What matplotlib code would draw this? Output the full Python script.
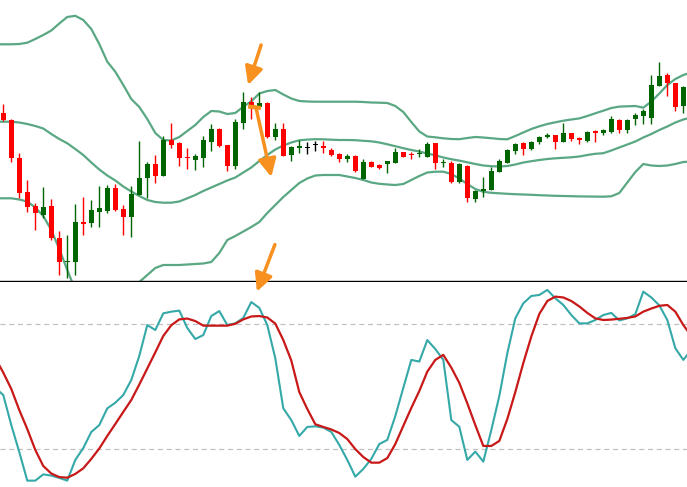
import numpy as np
import matplotlib
matplotlib.use('Agg')
import matplotlib.pyplot as plt

# K线数据 (价格单位任意)
opens = [187, 180, 142, 108, 94, 85, 94, 62, 38, 38, 78, 77, 88, 89, 112, 91, 83, 105, 122, 136,
         124, 160, 157, 143, 140, 142, 158, 171, 155, 134, 177, 198, 193, 197, 163, 171, 145, 152, 152, 155,
         154, 150, 146, 141, 144, 121, 138, 135, 136, 137, 148, 146, 146, 143, 157, 137, 137, 118, 134, 101,
         109, 110, 128, 137, 149, 157, 151, 158, 163, 165, 158, 167, 162, 159, 169, 167, 168, 180, 170, 181,
         184, 182, 214, 225, 217, 194]
highs = [196, 181, 147, 120, 97, 113, 101, 69, 65, 96, 103, 100, 114, 115, 116, 95, 114, 159, 138, 145,
         164, 177, 158, 152, 146, 164, 176, 172, 155, 181, 208, 203, 208, 198, 177, 177, 154, 160, 158, 159,
         159, 152, 147, 146, 145, 141, 139, 136, 139, 152, 148, 148, 151, 158, 157, 141, 139, 137, 135, 110,
         123, 133, 141, 151, 157, 158, 159, 164, 167, 165, 177, 167, 163, 169, 170, 171, 184, 181, 181, 187,
         191, 225, 238, 227, 217, 214]
lows = [179, 138, 102, 88, 70, 82, 60, 25, 22, 25, 65, 73, 73, 87, 89, 65, 63, 105, 102, 117,
        124, 152, 134, 131, 130, 133, 149, 153, 129, 131, 171, 181, 193, 162, 160, 144, 139, 147, 146, 149,
        147, 144, 138, 138, 128, 121, 133, 131, 127, 137, 143, 141, 143, 143, 131, 133, 117, 117, 98, 98,
        103, 110, 128, 137, 146, 145, 150, 156, 162, 151, 158, 159, 156, 158, 158, 165, 167, 167, 167, 175,
        176, 176, 214, 204, 189, 187]
closes = [180, 142, 107, 93, 87, 93, 62, 38, 39, 78, 76, 90, 92, 112, 90, 83, 106, 122, 136, 124,
          160, 155, 142, 142, 144, 160, 171, 154, 134, 178, 198, 194, 197, 163, 171, 144, 153, 154, 152, 155,
          152, 145, 141, 144, 129, 138, 133, 132, 139, 148, 143, 145, 147, 156, 137, 138, 118, 136, 102, 109,
          111, 129, 139, 150, 156, 151, 158, 163, 165, 158, 167, 161, 160, 168, 167, 170, 181, 170, 180, 185,
          189, 215, 224, 217, 193, 213]

# 布林带 (从 -1 到 86)
band_x = np.arange(-1, 87)
bb_upper = [255.7, 255.7, 255.7, 256, 257.3, 261, 265, 269.5, 276.5, 283,
            284.2, 280, 271, 256, 238.3, 228.3, 215, 201, 193, 181,
            167, 160, 159.5, 163, 169, 175, 183, 189, 188.5, 186,
            187, 193.3, 198.7, 206.5, 209, 210, 205.5, 201.5, 199, 198.5,
            198.3, 198.3, 198.3, 198.3, 198.3, 198.3, 198, 197.5, 197.3, 197,
            194, 188, 178, 168.5, 163.5, 162.7, 161.7, 161, 160.8, 162,
            163, 162.5, 161.8, 161, 160.7, 164, 167.5, 171, 173.7, 176,
            177.7, 179.3, 180.5, 181.6, 184, 186.7, 189.3, 192, 193.4, 193.7,
            194, 192.3, 198.5, 206.5, 215, 221, 225, 227.5]
bb_middle = [178.3, 178.3, 178.3, 177.5, 176, 174, 171.5, 166, 161, 156.7,
             151, 145, 137.5, 130.5, 124.5, 119.5, 113.5, 108.5, 104, 100,
             98, 97.3, 97.3, 98.5, 101.7, 105, 109, 112.5, 116, 119.5,
             122.5, 127.5, 132.5, 139, 145, 150.5, 154.5, 157.5, 159.7, 160.4,
             160.8, 160.7, 160.3, 160, 160, 159.8, 159.2, 158.7, 157.5, 155.7,
             153.8, 151.8, 150, 148.5, 146.5, 144.7, 142.5, 140.8, 139.4, 137.7,
             136, 134.5, 133.8, 133.5, 134, 135.5, 137.5, 138.8, 140, 141,
             141.7, 142.2, 142.7, 143.5, 145, 146.2, 146.8, 149.5, 152.5, 155.5,
             158.5, 162.5, 166, 170, 173.5, 177.5, 180.5, 182.5]
bb_lower = [101.7, 101.7, 101.7, 100.5, 98.5, 92.5, 84, 70, 51, 30,
            10, 0, -5, -6, -4, 0, 6, 12, 18, 25,
            32, 35, 35, 35, 35.5, 36, 36.5, 38, 47, 60,
            64, 68.5, 73, 78, 87, 95, 103, 110, 117, 121.5,
            124.5, 125, 125, 125, 123.5, 122, 120, 117.5, 116.2, 115.5,
            115, 116, 120, 124, 127.5, 128.3, 128.3, 126, 121.5, 116,
            111, 108.2, 107.2, 106.7, 106.2, 105.8, 105.5, 105.2, 104.8, 104.5,
            104.2, 104, 103.8, 103.6, 103.5, 103.4, 103.3, 103.7, 107, 117.5,
            128, 136, 134.5, 134, 134.5, 136, 138, 138.5]

# 随机指标 %K / %D (从 -1 到 86)
stoch_k = [49.4, 46.0, 31.6, 18.7, 5.0, 5.0, 8.0, 7.4, 6.3, 5.0,
           14.9, 20.6, 28.3, 31.6, 39.6, 42.3, 46.0, 53.2, 64.7, 79.5,
           77.1, 85.1, 85.9, 86.4, 78.1, 72.8, 74.7, 83.8, 86.2, 79.5,
           80.3, 82.9, 90.5, 87.7, 79.5, 63.6, 39.6, 34.0, 26.4, 30.7,
           31.0, 30.4, 28.3, 22.1, 14.9, 6.9, 10.6, 15.4, 22.5, 24.5,
           35.9, 49.4, 62.8, 62.0, 72.3, 68.0, 62.8, 34.0, 30.8, 14.9,
           18.9, 14.1, 29.2, 45.5, 66.0, 82.7, 89.9, 93.4, 93.9, 96.3,
           92.3, 89.1, 84.3, 80.3, 80.3, 81.9, 84.3, 85.3, 81.7, 82.7,
           84.7, 95.5, 92.7, 88.9, 81.9, 68.4, 62.8, 67.6]
stoch_d = [63.7, 56.7, 48.9, 38.8, 29.7, 19.7, 12.0, 8.4, 6.7, 6.4,
           8.2, 10.9, 15.4, 20.4, 26.4, 32.1, 37.9, 43.6, 51.0, 58.7,
           66.4, 74.3, 79.4, 82.2, 82.6, 81.4, 79.2, 79.2, 79.2, 79.2,
           80.1, 82.2, 83.6, 83.8, 83.1, 80.2, 72.3, 62.5, 47.4, 39.3,
           32.0, 30.7, 29.5, 27.8, 24.9, 20.1, 16.3, 13.6, 13.6, 15.8,
           22.5, 31.2, 39.8, 47.9, 57.2, 62.8, 65.2, 59.1, 51.8, 42.0,
           31.6, 21.6, 21.6, 24.0, 34.5, 47.4, 61.3, 74.0, 84.8, 91.0,
           93.1, 92.7, 91.0, 88.4, 85.3, 82.7, 81.9, 82.1, 82.5, 82.9,
           83.6, 85.9, 87.4, 88.7, 89.1, 85.9, 79.5, 74.3]
levels = [20, 80]

up_color = '#006400'
down_color = '#ff0000'
band_color = '#5aa883'
arrow_color = '#f7901e'

fig = plt.figure(figsize=(6.87, 4.87), dpi=100)
ax1 = fig.add_axes([0, 1 - 281 / 487, 1, 281 / 487])
ax2 = fig.add_axes([0, 0, 1, 205 / 487])

# ******* 主图: K线 + 布林带
x = np.arange(len(opens))
o = np.array(opens, dtype=float)
c = np.array(closes, dtype=float)
colors = np.where(c > o, up_color, np.where(c < o, down_color, 'black'))

ax1.vlines(x, lows, highs, colors=colors, linewidth=1.0, zorder=3)
body_bottom = np.minimum(o, c)
body_height = np.maximum(np.abs(c - o), 1.0)
ax1.bar(x, body_height, bottom=body_bottom, width=0.68, color=colors, linewidth=0, zorder=4)

ax1.plot(band_x, bb_upper, color=band_color, lw=1.6, zorder=2)
ax1.plot(band_x, bb_middle, color=band_color, lw=1.6, zorder=2)
ax1.plot(band_x, bb_lower, color=band_color, lw=1.6, zorder=2)

# 橙色箭头和标记
arrow_props = dict(arrowstyle='-|>,head_length=0.9,head_width=0.45', lw=2.5,
                   color=arrow_color, mutation_scale=12, shrinkA=0, shrinkB=0)
ax1.plot([30.6, 32.2], [193.5, 192.0], color=arrow_color, lw=3, solid_capstyle='butt', zorder=5)
ax1.annotate('', xy=(30.6, highs[30] + 7), xytext=(13, 40), textcoords='offset pixels',
             arrowprops=arrow_props, zorder=6)
ax1.annotate('', xy=(33.5, 123), xytext=(-15, 68), textcoords='offset pixels',
             arrowprops=arrow_props, zorder=6)

ax1.set_xlim(-0.41, 85.46)
ax1.set_ylim(19, 300)
ax1.set_xticks([])
ax1.set_yticks([])
for s in ['top', 'left', 'right']:
    ax1.spines[s].set_visible(False)
ax1.spines['bottom'].set_color('black')
ax1.spines['bottom'].set_linewidth(1.0)

# ******* 副图: 随机指标
for lv in levels:
    ax2.axhline(lv, color='#c0c0c0', lw=0.9, dashes=(4, 3))
ax2.plot(band_x, stoch_k, color='#35a8a8', lw=1.5)
ax2.plot(band_x, stoch_d, color='#c81818', lw=1.6)
ax2.annotate('', xy=(31.7, 95.5), xytext=(18, 47), textcoords='offset pixels',
             arrowprops=arrow_props, annotation_clip=False, zorder=6)
ax2.set_xlim(-0.41, 85.46)
ax2.set_ylim(1.95, 100.1)
ax2.set_xticks([])
ax2.set_yticks([])
for s in ax2.spines.values():
    s.set_visible(False)

plt.savefig('out.png', dpi=100)
